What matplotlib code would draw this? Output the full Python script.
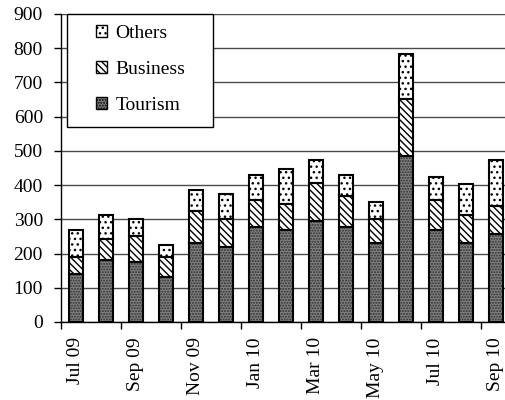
import matplotlib.pyplot as plt
import matplotlib.patches as mpatches
import numpy as np

plt.rcParams['font.family'] = ['Liberation Serif', 'DejaVu Serif']
plt.rcParams['hatch.linewidth'] = 1.0

months = ['Jul 09', 'Aug 09', 'Sep 09', 'Oct 09', 'Nov 09', 'Dec 09', 'Jan 10', 'Feb 10',
          'Mar 10', 'Apr 10', 'May 10', 'Jun 10', 'Jul 10', 'Aug 10', 'Sep 10']
tourism = [141, 180, 175, 132, 230, 220, 279, 270, 296, 279, 231, 485, 270, 231, 258]
business = [49, 62, 77, 58, 93, 82, 78, 76, 110, 88, 71, 166, 87, 83, 82]
others = [80, 72, 50, 36, 62, 73, 72, 100, 67, 62, 50, 131, 66, 88, 133]

x = np.arange(len(months))
tourism = np.array(tourism)
business = np.array(business)
others = np.array(others)

fig = plt.figure(figsize=(5.05, 4.0), dpi=100)
ax = fig.add_axes([61 / 505, 1 - 322 / 400, 444 / 505, 308 / 400])

w = 0.47
# hatched fills first, black outlines on top
ax.bar(x, tourism, w, color='#808080', edgecolor='#303030', hatch='......', lw=0, zorder=2)
ax.bar(x, business, w, bottom=tourism, color='white', edgecolor='black', hatch='\\\\\\\\\\', lw=0, zorder=2)
ax.bar(x, others, w, bottom=tourism + business, color='white', edgecolor='black', hatch='...', lw=0, zorder=2)
for bot, h in [(0, tourism), (tourism, business), (tourism + business, others)]:
    ax.bar(x, h, w, bottom=bot, fill=False, edgecolor='black', lw=1.5, zorder=3)

ax.set_ylim(0, 900)
ax.set_xlim(-0.5, 14.3)
ax.set_yticks(range(0, 901, 100))
ax.yaxis.grid(True, color='#4a4a4a', lw=1)
ax.set_axisbelow(True)

ax.set_xticks(np.arange(-0.5, 15, 2))
ax.set_xticklabels([])
ax.set_xticks(x[::2], minor=True)
ax.set_xticklabels(months[::2], minor=True, rotation=90, fontsize=14)
ax.tick_params(axis='x', which='minor', length=0, pad=11)
ax.tick_params(axis='x', which='major', length=5, direction='out', width=1)
ax.tick_params(axis='y', length=5, width=1, labelsize=14, pad=8)

for s in ['top', 'right']:
    ax.spines[s].set_visible(False)
ax.spines['left'].set_linewidth(1)
ax.spines['bottom'].set_linewidth(1)

# legend box drawn by hand so its size matches the original
box = mpatches.Rectangle((67 / 505, 1 - 127 / 400), 146 / 505, 113 / 400,
                         transform=fig.transFigure, facecolor='white',
                         edgecolor='black', lw=1, zorder=4)
ax.add_patch(box)
box.set_clip_on(False)

handles = [
    mpatches.Patch(facecolor='white', edgecolor='black', hatch='...', label='Others'),
    mpatches.Patch(facecolor='white', edgecolor='black', hatch='\\\\\\\\\\', label='Business'),
    mpatches.Patch(facecolor='#808080', edgecolor='black', hatch='......', label='Tourism'),
]
leg = ax.legend(handles=handles, loc='upper left', bbox_to_anchor=(96 / 505, 1 - 25 / 400),
                bbox_transform=fig.transFigure, fontsize=14, frameon=False,
                handlelength=0.55, handleheight=0.55,
                labelspacing=0.98, borderpad=0, handletextpad=0.45,
                borderaxespad=0)
leg.set_zorder(5)

fig.savefig('out.png', dpi=100)
